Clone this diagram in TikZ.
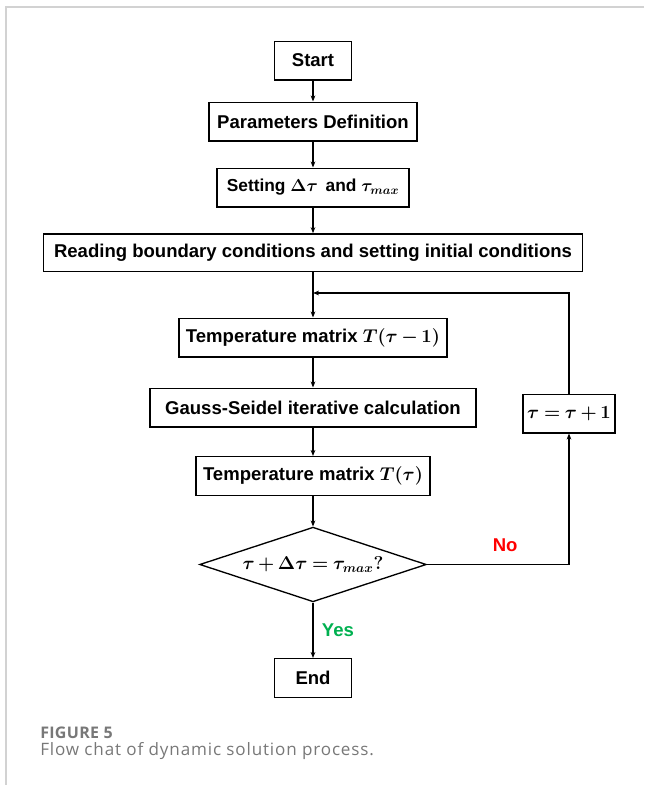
\documentclass[tikz,border=0pt]{standalone}
\usepackage{fix-cm}
\usepackage{bm}
\usepackage{fontspec}
\setmainfont{Liberation Sans}
\newfontfamily\capfont[LetterSpace=5]{Open Sans}
\newfontfamily\figfont[LetterSpace=2]{Open Sans}
\usetikzlibrary{shapes.geometric,arrows.meta}
\definecolor{nored}{RGB}{255,0,0}
\definecolor{yesgreen}{RGB}{0,176,80}
\definecolor{capgray}{RGB}{120,120,120}
\medmuskip=3mu
\thickmuskip=4mu

\begin{document}
\begin{tikzpicture}[x=0.75pt,y=-0.75pt,
   every node/.style={font=\bfseries\boldmath\fontsize{13.9}{16}\selectfont},
   box/.style={draw,line width=1pt,minimum height=29pt,inner sep=2pt},
   cond/.style={draw,diamond,aspect=3,line width=1pt,minimum width=170pt,minimum height=56pt,inner sep=0pt},
   flow/.style={-{Stealth[length=4.5pt,width=3.5pt]},line width=0.8pt}]
\useasboundingbox (0,0) rectangle (644,785);
\draw[gray!35,line width=1pt] (644,7) -- (6,7) -- (6,785);
\node[box,minimum width=58pt] (start) at (313,60.5) {Start};
\node[box,minimum width=156pt] (param) at (313,121.5) {Parameters Definition};
\node[box,minimum width=144pt,font=\bfseries\boldmath\fontsize{13}{16}\selectfont] (set) at (313,187.5) {Setting $\Delta\tau$ \,and $\tau_{max}$};
\node[box,minimum width=404pt,minimum height=28pt] (read) at (313,252.5) {Reading boundary conditions and setting initial conditions};
\coordinate (join) at (313,293);
\node[box,minimum width=201pt] (tprev) at (313,337.5) {Temperature matrix $T(\tau-1)$};
\node[box,minimum width=244.5pt] (gs) at (313,407.5) {Gauss-Seidel iterative calculation};
\node[box,minimum width=175.5pt] (tnow) at (313,476) {Temperature matrix $T(\tau)$};
\node[cond] (check) at (313,564.5) {$\tau+\Delta\tau=\tau_{max}?$};
\node[box,minimum width=69pt] (inc) at (569,413.5) {$\tau=\tau+1$};
\node[box,minimum width=58pt] (end) at (313,678) {End};
\draw[flow] (start) -- (param);
\draw[flow] (param) -- (set);
\draw[flow] (set) -- (read);
\draw[flow] (read) -- (tprev);
\draw[flow] (tprev) -- (gs);
\draw[flow] (gs) -- (tnow);
\draw[flow] (tnow) -- (check);
\draw[flow] (check) -- node[right=3pt,text=yesgreen] {Yes} (end);
\draw[flow] (check.east) -- node[above=6pt,pos=0.55,text=nored] {No} (inc |- check.east) -- (inc.south);
\draw[flow] (inc.north) |- (join);
\node[anchor=base west,inner sep=0pt,text=capgray,font=\figfont\bfseries\fontsize{12}{14}\selectfont] (fig) at (40,738) {FIGURE 5};
\node[anchor=base west,inner sep=0pt,text=capgray,font=\capfont\fontsize{12.8}{14}\selectfont] (cap) at (40,755) {Flow chat of dynamic solution process.};
\end{tikzpicture}
\end{document}
